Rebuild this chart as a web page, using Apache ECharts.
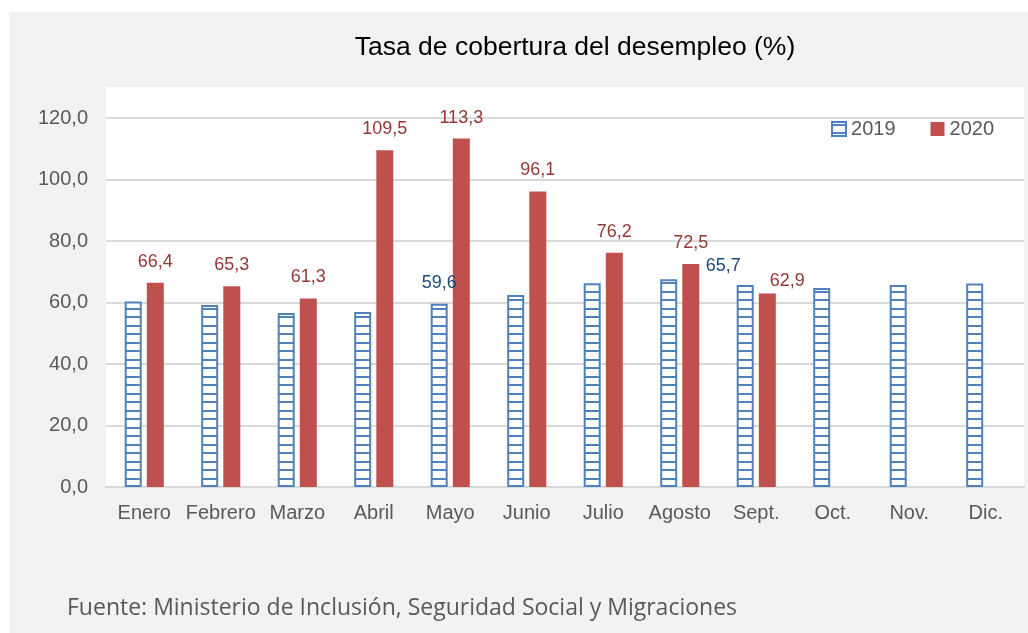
<!DOCTYPE html>
<html>
<head>
<meta charset="utf-8">
<script src="https://cdn.jsdelivr.net/npm/echarts@6/dist/echarts.min.js"></script>
<style>
  html, body { margin: 0; padding: 0; background: #fff; }
  #chart { width: 1028px; height: 633px; }
</style>
</head>
<body>
<div id="chart"></div>
<script>
const months = ['Enero', 'Febrero', 'Marzo', 'Abril', 'Mayo', 'Junio', 'Julio', 'Agosto', 'Sept.', 'Oct.', 'Nov.', 'Dic.'];
const values2019 = [60.3, 59.2, 56.6, 56.9, 59.6, 62.4, 66.3, 67.6, 65.7, 64.7, 65.7, 66.2];
const values2020 = [66.4, 65.3, 61.3, 109.5, 113.3, 96.1, 76.2, 72.5, 62.9, null, null, null];
const labeled2019 = [4, 8]; // solo Mayo y Sept. llevan etiqueta en 2019

const fmt = v => v.toFixed(1).replace('.', ',');

// patron de rayas horizontales para 2019
const pat = document.createElement('canvas');
pat.width = 8;
pat.height = 17;
const ctx = pat.getContext('2d');
ctx.fillStyle = '#ffffff';
ctx.fillRect(0, 0, 8, 17);
ctx.fillStyle = '#4f81bd';
ctx.fillRect(0, 2, 8, 2);
ctx.fillRect(0, 10, 8, 2);

const data2019 = values2019.map((v, i) => {
  if (!labeled2019.includes(i)) return v;
  return {
    value: v,
    label: {
      show: true,
      offset: i === 8 ? [-22, 2] : [0, 0],
    },
  };
});

const data2020 = values2020.map((v, i) => {
  if (i === 8) return { value: v, label: { offset: [20, 8] } };
  return v;
});

const chart = echarts.init(document.getElementById('chart'));

const option = {
  backgroundColor: '#ffffff',
  animation: false,
  graphic: [
    {
      type: 'rect',
      z: -10,
      shape: { x: 9, y: 12, width: 1019, height: 621 },
      style: { fill: '#f2f2f2' },
    },
    {
      type: 'rect',
      z: -9,
      shape: { x: 106, y: 87, width: 918, height: 400 },
      style: { fill: '#ffffff' },
    },
    {
      type: 'text',
      x: 575,
      y: 48,
      style: {
        text: 'Tasa de cobertura del desempleo (%)',
        fill: '#000000',
        font: '26.5px "Liberation Sans", Arial, sans-serif',
        textAlign: 'center',
        textVerticalAlign: 'middle',
      },
    },
    {
      type: 'text',
      x: 67,
      y: 608,
      style: {
        text: 'Fuente: Ministerio de Inclusión, Seguridad Social y Migraciones',
        fill: '#595959',
        font: '23px "Open Sans", sans-serif',
        textVerticalAlign: 'middle',
      },
    },
  ],
  legend: {
    right: 29,
    top: 114,
    icon: 'rect',
    itemWidth: 14,
    itemHeight: 14,
    itemGap: 35,
    textStyle: { fontSize: 20, color: '#595959', fontFamily: 'Liberation Sans' },
    data: ['2019', '2020'],
  },
  grid: {
    left: 106,
    right: 4,
    top: 118,
    bottom: 146,
  },
  xAxis: {
    type: 'category',
    data: months,
    axisLine: { lineStyle: { color: '#d9d9d9', width: 2 } },
    axisTick: { show: false },
    axisLabel: {
      interval: 0,
      color: '#595959',
      fontSize: 20,
      fontFamily: 'Liberation Sans',
      margin: 16,
    },
  },
  yAxis: {
    type: 'value',
    min: 0,
    max: 120,
    interval: 20,
    axisLine: { show: false },
    axisTick: { show: false },
    splitLine: { lineStyle: { color: '#d9d9d9', width: 2 } },
    axisLabel: {
      color: '#595959',
      fontSize: 20,
      fontFamily: 'Liberation Sans',
      margin: 18,
      formatter: v => fmt(v),
    },
  },
  series: [
    {
      name: '2019',
      type: 'bar',
      data: data2019,
      barWidth: 17,
      barGap: '30%',
      itemStyle: {
        color: { image: pat, repeat: 'repeat' },
        borderColor: '#4f81bd',
        borderWidth: 2,
      },
      label: {
        show: false,
        position: 'top',
        distance: 12,
        color: '#1f497d',
        fontSize: 18,
        fontFamily: 'Liberation Sans',
        formatter: p => fmt(p.value),
      },
    },
    {
      name: '2020',
      type: 'bar',
      data: data2020,
      barWidth: 17,
      itemStyle: { color: '#c0504d' },
      label: {
        show: true,
        position: 'top',
        distance: 12,
        color: '#953735',
        fontSize: 18,
        fontFamily: 'Liberation Sans',
        formatter: p => fmt(p.value),
      },
    },
  ],
};

chart.setOption(option);
</script>
</body>
</html>
